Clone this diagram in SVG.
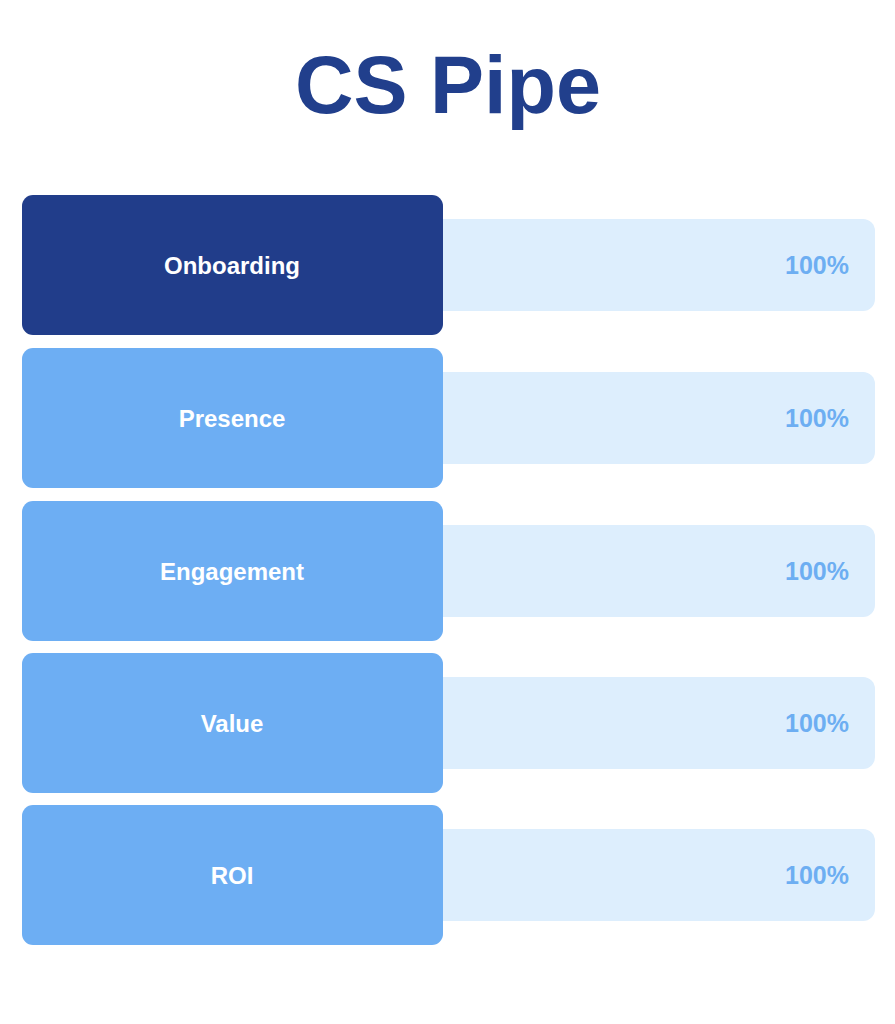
<svg xmlns="http://www.w3.org/2000/svg" width="895" height="1024" viewBox="0 0 895 1024">
<style>
.title{font-family:"Liberation Sans",Arial,sans-serif;font-weight:bold;font-size:81px;fill:#213F8C}
.stage{fill:#6DAEF3}
.stage.dark{fill:#213D8A}
.bar{fill:#DDEEFD}
.lbl{font-family:"Liberation Sans",Arial,sans-serif;font-weight:bold;font-size:24px;fill:#FFFFFF;text-anchor:middle}
.pct{font-family:"Liberation Sans",Arial,sans-serif;font-weight:bold;font-size:25px;fill:#6DAEF2;text-anchor:end}
</style>
<rect width="895" height="1024" fill="#FFFFFF"/>
<text class="title" x="448" y="113" text-anchor="middle">CS Pipe</text>
<g id="connectors"></g>
<g id="onboarding">
<rect class="bar" x="420" y="219" width="455" height="92" rx="12"/>
<rect class="stage dark" x="22" y="195" width="421" height="140" rx="11"/>
<text class="lbl" x="232" y="274">Onboarding</text>
<text class="pct" x="849" y="274">100%</text>
</g>
<g id="presence">
<rect class="bar" x="420" y="372" width="455" height="92" rx="12"/>
<rect class="stage" x="22" y="348" width="421" height="140" rx="11"/>
<text class="lbl" x="232" y="427">Presence</text>
<text class="pct" x="849" y="427">100%</text>
</g>
<g id="engagement">
<rect class="bar" x="420" y="525" width="455" height="92" rx="12"/>
<rect class="stage" x="22" y="501" width="421" height="140" rx="11"/>
<text class="lbl" x="232" y="580">Engagement</text>
<text class="pct" x="849" y="580">100%</text>
</g>
<g id="value">
<rect class="bar" x="420" y="677" width="455" height="92" rx="12"/>
<rect class="stage" x="22" y="653" width="421" height="140" rx="11"/>
<text class="lbl" x="232" y="732">Value</text>
<text class="pct" x="849" y="732">100%</text>
</g>
<g id="roi">
<rect class="bar" x="420" y="829" width="455" height="92" rx="12"/>
<rect class="stage" x="22" y="805" width="421" height="140" rx="11"/>
<text class="lbl" x="232" y="884">ROI</text>
<text class="pct" x="849" y="884">100%</text>
</g>
</svg>
